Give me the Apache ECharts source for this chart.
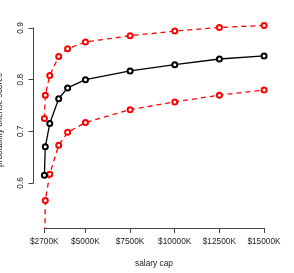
<!DOCTYPE html>
<html><head><meta charset="utf-8">
<script src="https://cdn.jsdelivr.net/npm/echarts@6/dist/echarts.min.js"></script>
<style>html,body{margin:0;padding:0;background:#fff}#c{width:294px;height:273px}</style>
</head><body><div id="c"></div>
<script>
const salaryCap = [2700, 2750, 3000, 3500, 4000, 5000, 7500, 10000, 12500, 15000];
const meanScore = [0.615, 0.670, 0.715, 0.763, 0.784, 0.800, 0.817, 0.829, 0.840, 0.846];
const upperScore = [0.725, 0.770, 0.808, 0.845, 0.860, 0.873, 0.885, 0.894, 0.901, 0.905];
const lowerScore = [0.40, 0.566, 0.617, 0.673, 0.698, 0.717, 0.742, 0.757, 0.770, 0.780];
const xTicks = [2700, 5000, 7500, 10000, 12500, 15000];
const yTicks = [0.6, 0.7, 0.8, 0.9];

const FONT = 'Liberation Sans';
const TXT = '#222';
const zip = (xs, ys) => xs.map((x, i) => [x, ys[i]]);

const chart = echarts.init(document.getElementById('c'), null, {renderer: 'canvas'});
const hidden = {show: false};
function mkSeries(data, color, dashed) {
  return {
    type: 'line', xAxisIndex: 0, yAxisIndex: 0, data: data, clip: true,
    symbol: 'emptyCircle', symbolSize: 5,
    itemStyle: {color: color, borderColor: color, borderWidth: 1},
    lineStyle: {color: color, width: 1.3, type: dashed ? [5, 4] : 'solid'},
    emphasis: {disabled: true}, animation: false
  };
}
chart.setOption({
  animation: false,
  grid: [
    {left: 33.5, top: 14, width: 239.5, height: 214},
    {left: 44.3, top: 28, width: 219.7, height: 200},
    {left: 33.5, top: 28, width: 100, height: 155}
  ],
  xAxis: [
    {gridIndex: 0, type: 'value', min: 2090, max: 15500, show: false},
    {gridIndex: 1, type: 'value', min: 2700, max: 15000, position: 'bottom',
      axisLine: {show: true, lineStyle: {color: '#444', width: 1}},
      axisTick: {show: true, length: 5, customValues: xTicks, lineStyle: {color: '#444'}},
      axisLabel: {show: true, customValues: xTicks, margin: 10, fontFamily: FONT, fontSize: 8.3, color: TXT,
        formatter: v => '$' + v + 'K'},
      splitLine: hidden},
    {gridIndex: 2, type: 'value', min: 0, max: 1, show: false}
  ],
  yAxis: [
    {gridIndex: 0, type: 'value', min: 0.5129, max: 0.9271, show: false},
    {gridIndex: 1, type: 'value', min: 0, max: 1, show: false},
    {gridIndex: 2, type: 'value', min: 0.6, max: 0.9, position: 'left',
      axisLine: {show: true, lineStyle: {color: '#444', width: 1}},
      axisTick: {show: true, length: 5, customValues: yTicks, lineStyle: {color: '#444'}},
      axisLabel: {show: true, customValues: yTicks, rotate: 90, margin: 9, fontFamily: FONT, fontSize: 8.3, color: TXT,
        formatter: v => v.toFixed(1)},
      splitLine: hidden}
  ],
  graphic: [
    {type: 'text', x: 154, y: 264, style: {text: 'salary cap', font: '8.3px ' + FONT, fill: TXT, textAlign: 'center', textVerticalAlign: 'middle'}},
    {type: 'text', x: 0, y: 120, rotation: Math.PI / 2, style: {text: 'probability offense scores', font: '8.3px ' + FONT, fill: TXT, textAlign: 'center', textVerticalAlign: 'middle'}}
  ],
  series: [
    mkSeries(zip(salaryCap, upperScore), '#ff0000', true),
    mkSeries(zip(salaryCap, lowerScore), '#ff0000', true),
    mkSeries(zip(salaryCap, meanScore), '#000000', false)
  ]
});
</script></body></html>
